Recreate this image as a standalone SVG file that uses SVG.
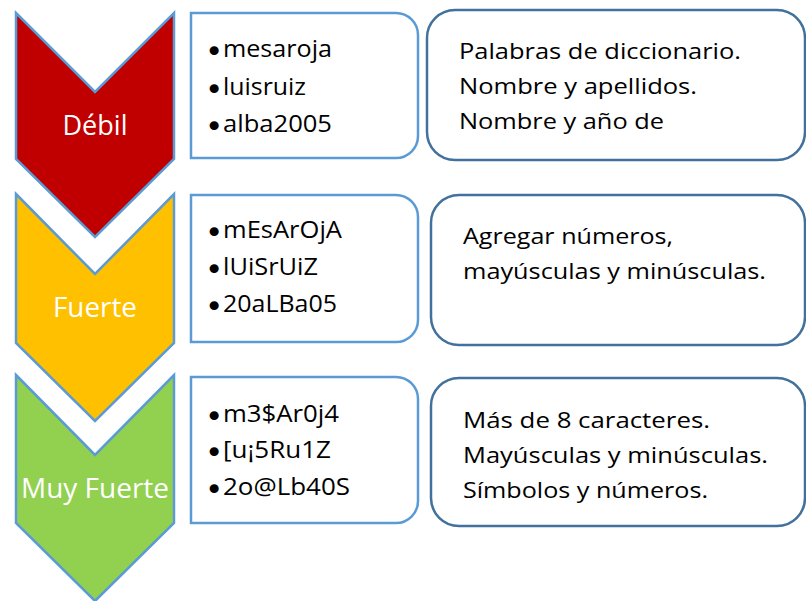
<svg xmlns="http://www.w3.org/2000/svg" width="806" height="601" viewBox="0 0 806 601">
<style>
.chev{stroke:#5B9BD5;stroke-width:2.5;stroke-linejoin:miter}
.mid{fill:#fff;stroke:#5B9BD5;stroke-width:2.5}
.rbox{fill:#fff;stroke:#41719C;stroke-width:2.5}
.lbl{font-family:"Open Sans","Noto Sans","Liberation Sans",sans-serif;font-size:28px;fill:#fff;text-anchor:middle}
.pw{font-family:"Open Sans","Noto Sans","Liberation Sans",sans-serif;font-size:23.5px;fill:#000}
.bul{font-family:"DejaVu Sans",sans-serif;font-size:31px}
.desc{font-family:"Open Sans","Noto Sans","Liberation Sans",sans-serif;font-size:22.5px;fill:#000}
</style>
<rect width="806" height="601" fill="#fff"/>
<g id="chev-debil">
<polygon class="chev" fill="#C00000" points="16,13 95,92 174,13 174,159 95,237 16,159"/>
<text class="lbl" x="95" y="135" textLength="65" lengthAdjust="spacingAndGlyphs">Débil</text>
</g>
<g id="chev-fuerte">
<polygon class="chev" fill="#FFC000" points="16,194 95,274 174,194 174,343 95,421 16,343"/>
<text class="lbl" x="95" y="317" textLength="84" lengthAdjust="spacingAndGlyphs">Fuerte</text>
</g>
<g id="chev-muyfuerte">
<polygon class="chev" fill="#92D050" points="16,375 95,455 174,375 174,523 95,601 16,523"/>
<text class="lbl" x="95" y="498" textLength="148" lengthAdjust="spacingAndGlyphs">Muy Fuerte</text>
</g>
<g id="ex-debil">
<path class="mid" d="M191,13 H396 A22,22 0 0 1 418,35 V136 A22,22 0 0 1 396,158 H191 Z"/>
<text class="pw" y="57"><tspan class="bul" x="205" dy="5">•</tspan><tspan x="223" dy="-5" textLength="109" lengthAdjust="spacingAndGlyphs">mesaroja</tspan></text>
<text class="pw" y="95"><tspan class="bul" x="205" dy="5">•</tspan><tspan x="223" dy="-5" textLength="83" lengthAdjust="spacingAndGlyphs">luisruiz</tspan></text>
<text class="pw" y="132"><tspan class="bul" x="205" dy="5">•</tspan><tspan x="223" dy="-5" textLength="109" lengthAdjust="spacingAndGlyphs">alba2005</tspan></text>
</g>
<g id="ex-fuerte">
<path class="mid" d="M191,195 H396 A22,22 0 0 1 418,217 V320 A22,22 0 0 1 396,342 H191 Z"/>
<text class="pw" y="238"><tspan class="bul" x="205" dy="5">•</tspan><tspan x="223" dy="-5" textLength="119" lengthAdjust="spacingAndGlyphs">mEsArOjA</tspan></text>
<text class="pw" y="275"><tspan class="bul" x="205" dy="5">•</tspan><tspan x="223" dy="-5" textLength="95" lengthAdjust="spacingAndGlyphs">lUiSrUiZ</tspan></text>
<text class="pw" y="312"><tspan class="bul" x="205" dy="5">•</tspan><tspan x="223" dy="-5" textLength="114" lengthAdjust="spacingAndGlyphs">20aLBa05</tspan></text>
</g>
<g id="ex-muyfuerte">
<path class="mid" d="M191,377 H396 A22,22 0 0 1 418,399 V501 A22,22 0 0 1 396,523 H191 Z"/>
<text class="pw" y="422"><tspan class="bul" x="205" dy="5">•</tspan><tspan x="223" dy="-5" textLength="116" lengthAdjust="spacingAndGlyphs">m3$Ar0j4</tspan></text>
<text class="pw" y="458"><tspan class="bul" x="205" dy="5">•</tspan><tspan x="223" dy="-5" textLength="108" lengthAdjust="spacingAndGlyphs">[u¡5Ru1Z</tspan></text>
<text class="pw" y="495"><tspan class="bul" x="205" dy="5">•</tspan><tspan x="223" dy="-5" textLength="127" lengthAdjust="spacingAndGlyphs">2o@Lb40S</tspan></text>
</g>
<g id="desc-debil">
<rect class="rbox" x="427" y="10" width="378" height="150" rx="28" ry="28"/>
<text class="desc" x="459" y="59" textLength="282" lengthAdjust="spacingAndGlyphs">Palabras de diccionario.</text>
<text class="desc" x="459" y="94" textLength="238" lengthAdjust="spacingAndGlyphs">Nombre y apellidos.</text>
<text class="desc" x="459" y="129" textLength="205" lengthAdjust="spacingAndGlyphs">Nombre y año de</text>
</g>
<g id="desc-fuerte">
<rect class="rbox" x="431" y="195" width="374" height="150" rx="28" ry="28"/>
<text class="desc" x="463" y="244" textLength="210" lengthAdjust="spacingAndGlyphs">Agregar números,</text>
<text class="desc" x="463" y="279" textLength="303" lengthAdjust="spacingAndGlyphs">mayúsculas y minúsculas.</text>
</g>
<g id="desc-muyfuerte">
<rect class="rbox" x="431" y="378" width="374" height="148" rx="28" ry="28"/>
<text class="desc" x="463" y="428" textLength="247" lengthAdjust="spacingAndGlyphs">Más de 8 caracteres.</text>
<text class="desc" x="463" y="463" textLength="305" lengthAdjust="spacingAndGlyphs">Mayúsculas y minúsculas.</text>
<text class="desc" x="463" y="498" textLength="245" lengthAdjust="spacingAndGlyphs">Símbolos y números.</text>
</g>
<g id="connectors"></g>
</svg>
